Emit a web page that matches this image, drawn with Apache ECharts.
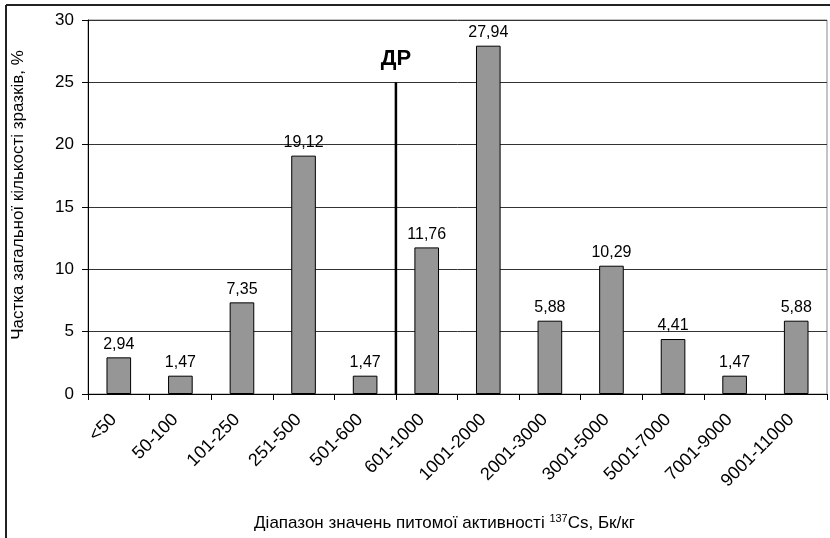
<!DOCTYPE html>
<html><head><meta charset="utf-8">
<script src="https://cdn.jsdelivr.net/npm/echarts@6/dist/echarts.min.js"></script>
<style>html,body{margin:0;padding:0;background:#fff}#c{width:830px;height:538px}</style>
</head><body><div id="c"></div>
<script>
const categories = ['<50','50-100','101-250','251-500','501-600','601-1000','1001-2000','2001-3000','3001-5000','5001-7000','7001-9000','9001-11000'];
const values = [2.94,1.47,7.35,19.12,1.47,11.76,27.94,5.88,10.29,4.41,1.47,5.88];
const drLine = [[5,0],[5,25]];
const drLabel = 'ДР';
const yTitle = 'Частка загальної кількості зразків, %';
const F = 'Liberation Sans, Arial, sans-serif';
const chart = echarts.init(document.getElementById('c'));
chart.setOption({
  animation:false,
  backgroundColor:'#fff',
  textStyle:{fontFamily:F},
  graphic:[
    {type:'line', shape:{x1:6,y1:5,x2:830,y2:5}, style:{stroke:'#222',lineWidth:2}},
    {type:'line', shape:{x1:6,y1:5,x2:6,y2:538}, style:{stroke:'#222',lineWidth:2}}
  ],
  grid:{left:88, top:20, right:3, bottom:144, show:true, borderColor:'#888', borderWidth:1},
  xAxis:[{
    type:'category', data:categories,
    axisLine:{lineStyle:{color:'#000',width:1}},
    axisTick:{show:true, length:6, alignWithLabel:false, lineStyle:{color:'#000'}},
    axisLabel:{rotate:45, fontSize:18, color:'#000', fontFamily:F, margin:18, interval:0, padding:[0,7,0,0]},
    name:'Діапазон значень питомої активності {sup|137}Cs, Бк/кг',
    nameLocation:'middle', nameGap:119,
    nameTextStyle:{fontSize:17, color:'#000', fontFamily:F, padding:[0,26,0,0], rich:{sup:{fontSize:11, verticalAlign:'top', padding:[0,0,9,0], color:'#000', fontFamily:F}}}
  },{
    type:'value', min:0, max:12, show:false
  }],
  yAxis:{
    type:'value', min:0, max:30, interval:5,
    axisLine:{show:true, lineStyle:{color:'#000'}},
    axisTick:{show:true, length:6, lineStyle:{color:'#000'}},
    axisLabel:{fontSize:17, color:'#000', fontFamily:F, margin:14},
    splitLine:{lineStyle:{color:'#333', width:1}},
    name:yTitle, nameLocation:'middle', nameGap:61,
    nameTextStyle:{fontSize:17, color:'#000', fontFamily:F, padding:[0,0,0,24]}
  },
  series:[{
    type:'bar', data:values, barWidth:'40%',
    itemStyle:{color:'#969696', borderColor:'#000', borderWidth:1},
    label:{show:true, position:'top', distance:5, fontSize:16, color:'#000', fontFamily:F,
      formatter:p=>String(p.value).replace('.',',')}
  },{
    type:'line', xAxisIndex:1, data:drLine, symbol:'none',
    lineStyle:{color:'#000', width:2.5},
    markPoint:{symbol:'circle', symbolSize:0, data:[{coord:drLine[1], value:drLabel}],
      label:{show:true, position:'top', distance:12, formatter:drLabel, fontSize:22, fontWeight:'bold', color:'#000', fontFamily:F}}
  }]
});
</script></body></html>
